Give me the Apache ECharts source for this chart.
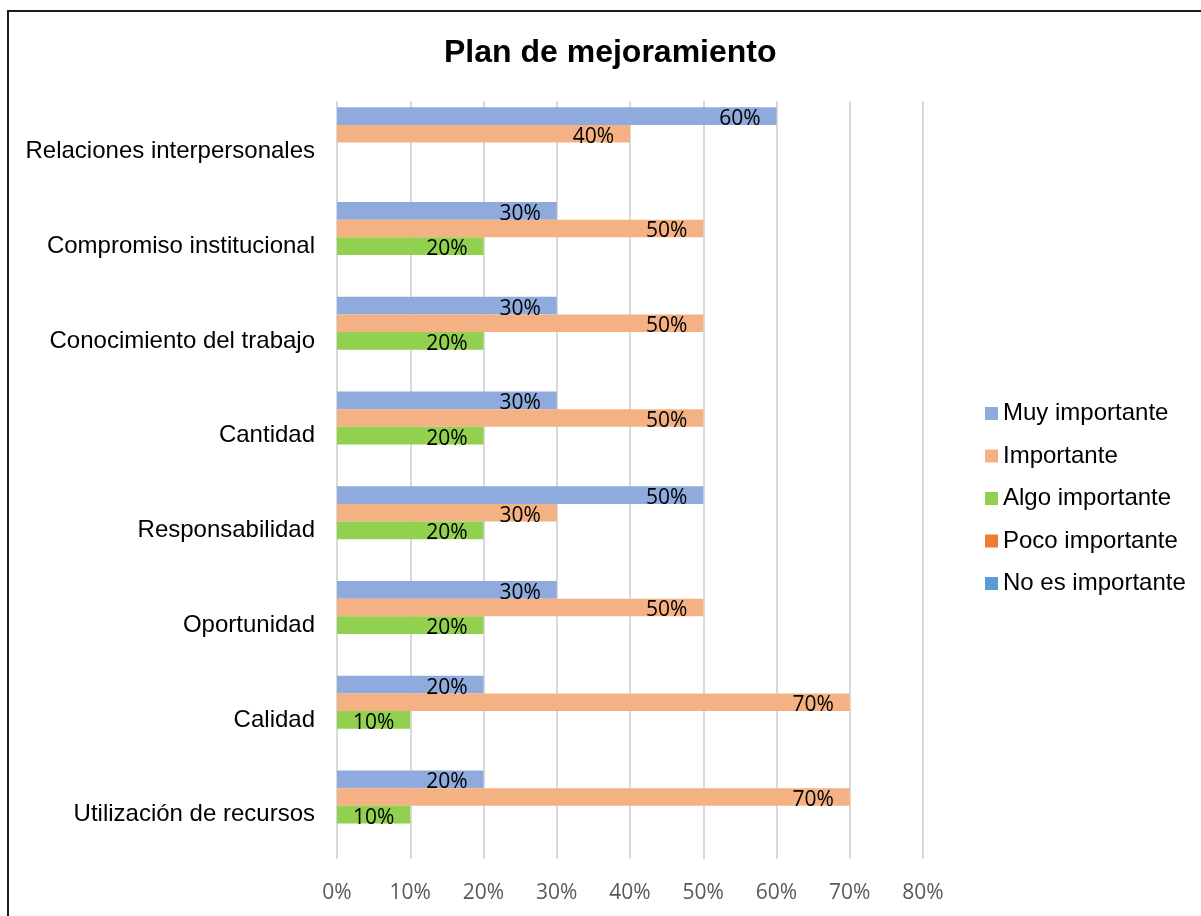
<!DOCTYPE html>
<html>
<head>
<meta charset="utf-8">
<script src="https://cdn.jsdelivr.net/npm/echarts@6/dist/echarts.min.js"></script>
<style>
html,body{margin:0;padding:0;background:#fff;}
#chart{width:1201px;height:916px;}
</style>
</head>
<body>
<div id="chart"></div>
<script>
const categories = [
  "Relaciones interpersonales",
  "Compromiso institucional",
  "Conocimiento del trabajo",
  "Cantidad",
  "Responsabilidad",
  "Oportunidad",
  "Calidad",
  "Utilización de recursos"
];
const seriesNames = ["Muy importante", "Importante", "Algo importante", "Poco importante", "No es importante"];
const muyImportante   = [60, 30, 30, 30, 50, 30, 20, 20];
const importante      = [40, 50, 50, 50, 30, 50, 70, 70];
const algoImportante  = [0, 20, 20, 20, 20, 20, 10, 10];
const pocoImportante  = [0, 0, 0, 0, 0, 0, 0, 0];
const noEsImportante  = [0, 0, 0, 0, 0, 0, 0, 0];
const xTicks = [0, 10, 20, 30, 40, 50, 60, 70, 80];
const colors = ["#8faadc", "#f4b183", "#92d050", "#ed7d31", "#5b9bd5"];

const seriesData = [muyImportante, importante, algoImportante, pocoImportante, noEsImportante];
const xMin = xTicks[0], xMax = xTicks[xTicks.length - 1];

const chart = echarts.init(document.getElementById('chart'), null, {renderer: 'canvas'});
const option = {
  animation: false,
  backgroundColor: '#fff',
  title: {
    text: 'Plan de mejoramiento',
    left: 444,
    top: 37,
    padding: 0,
    textStyle: {fontFamily: 'Liberation Sans, Arial', fontWeight: 'bold', fontSize: 32, color: '#000'}
  },
  graphic: [{
    type: 'rect',
    shape: {x: 8, y: 11, width: 1300, height: 1000},
    style: {fill: 'none', stroke: '#1a1a1a', lineWidth: 2},
    silent: true,
    z: 100
  }],
  legend: {
    orient: 'vertical',
    left: 985,
    top: 401.5,
    padding: 0,
    itemWidth: 13,
    itemHeight: 13,
    itemGap: 18.5,
    icon: 'rect',
    data: seriesNames,
    textStyle: {fontFamily: 'Liberation Sans, Arial', fontSize: 24, color: '#000', lineHeight: 24}
  },
  grid: [
    {left: 337, right: 278, top: 101, bottom: 57, containLabel: false},
    {left: 337, right: 278, top: 104, bottom: 54, containLabel: false}
  ],
  xAxis: [{
    type: 'value',
    gridIndex: 0,
    min: xMin,
    max: xMax,
    interval: 10,
    axisLine: {show: false},
    axisTick: {show: false},
    splitLine: {show: true, lineStyle: {color: '#d9d9d9', width: 2}},
    axisLabel: {
      formatter: '{value}%',
      fontFamily: 'Open Sans',
      fontSize: 21,
      color: '#595959',
      margin: 24
    }
  }, {
    type: 'value',
    gridIndex: 1,
    min: xMin,
    max: xMax,
    interval: 10,
    show: false,
    splitLine: {show: false}
  }],
  yAxis: [{
    type: 'category',
    gridIndex: 0,
    data: categories,
    inverse: true,
    show: false
  }, {
    type: 'category',
    gridIndex: 1,
    data: categories,
    inverse: true,
    axisLine: {show: false},
    axisTick: {show: false},
    splitLine: {show: false},
    axisLabel: {fontFamily: 'Liberation Sans, Arial', fontSize: 24, color: '#000', margin: 22}
  }],
  series: seriesNames.map((name, i) => ({
    name: name,
    type: 'bar',
    xAxisIndex: 1,
    yAxisIndex: 1,
    data: seriesData[i],
    barGap: '0%',
    barCategoryGap: '7%',
    itemStyle: {color: colors[i]},
    label: {
      show: true,
      position: 'insideRight',
      distance: 16,
      offset: [0, 3],
      fontFamily: 'Open Sans',
      fontSize: 21,
      color: '#000',
      formatter: p => p.value ? p.value + '%' : ''
    }
  }))
};
chart.setOption(option);
</script>
</body>
</html>
